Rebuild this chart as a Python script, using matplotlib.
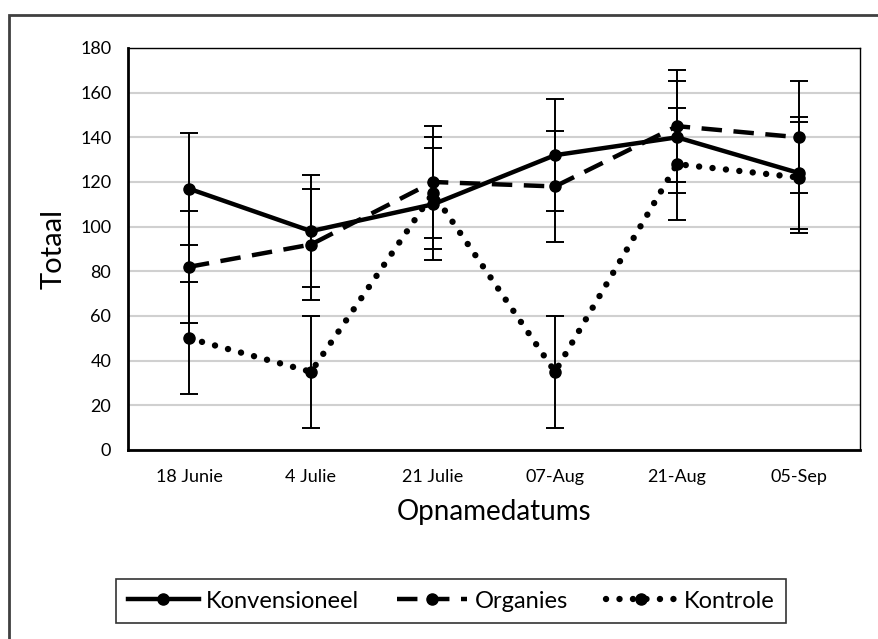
import matplotlib
matplotlib.use("Agg")
import matplotlib.pyplot as plt
from matplotlib.patches import Rectangle

plt.rcParams['font.family'] = ['Lato', 'DejaVu Sans']

dates = ['18 Junie', '4 Julie', '21 Julie', '07-Aug', '21-Aug', '05-Sep']
konv = [117, 98, 110, 132, 140, 124]
org = [82, 92, 120, 118, 145, 140]
kontrole = [50, 35, 115, 35, 128, 122]
err = [25, 25, 25, 25, 25, 25]

fig = plt.figure(figsize=(8.79, 6.39), dpi=100)
ax = fig.add_axes([0.1456, 0.2958, 0.8328, 0.6291])

x = range(len(dates))

# error bars first, lines on top
for vals in (konv, org, kontrole):
    ax.errorbar(x, vals, yerr=err, fmt='none', ecolor='black',
                elinewidth=1.4, capsize=6.5, capthick=1.4, zorder=3)

ax.plot(x, konv, color='black', lw=3.2, ls='-', marker='o', ms=8,
        label='Konvensioneel', zorder=4)
ax.plot(x, org, color='black', lw=3.2, ls=(0, (4.6, 2.6)), marker='o', ms=8,
        label='Organies', zorder=4)
ax.plot(x, kontrole, color='black', lw=4.6, ls=(0, (0.01, 2.1)),
        dash_capstyle='round', marker='o', ms=8, label='Kontrole', zorder=4)

ax.set_xlim(-0.5, len(dates) - 0.5)
ax.set_ylim(0, 180)
ax.set_yticks(range(0, 181, 20))
ax.set_xticks(list(x))
ax.set_xticklabels(dates)
ax.tick_params(axis='both', length=0, labelsize=13)
ax.tick_params(axis='y', pad=12)
ax.tick_params(axis='x', pad=14)
ax.grid(axis='y', color='#d0d0d0', lw=1.5)
ax.set_axisbelow(True)

ax.spines['left'].set_linewidth(2)
ax.spines['bottom'].set_linewidth(2)
ax.spines['top'].set_linewidth(1)
ax.spines['right'].set_linewidth(1)

ax.set_ylabel('Totaal', fontsize=21, labelpad=10)
ax.set_xlabel('Opnamedatums', fontsize=20, labelpad=10)

leg = fig.legend(loc='center', bbox_to_anchor=(451 / 879, 1 - 601 / 639),
                 ncol=3, fontsize=17, frameon=True, fancybox=False,
                 edgecolor='black', handlelength=3.0, columnspacing=1.6,
                 handletextpad=0.3, borderpad=0.5)
leg.get_frame().set_linewidth(1.2)

# outer chart border (cut off at right and bottom)
fig.patches.append(Rectangle((9 / 879, -0.1), 1.2, 1 - 15 / 639 + 0.1,
                             transform=fig.transFigure, fill=False,
                             edgecolor='#404040', lw=2))

fig.savefig('out.png', dpi=100)
